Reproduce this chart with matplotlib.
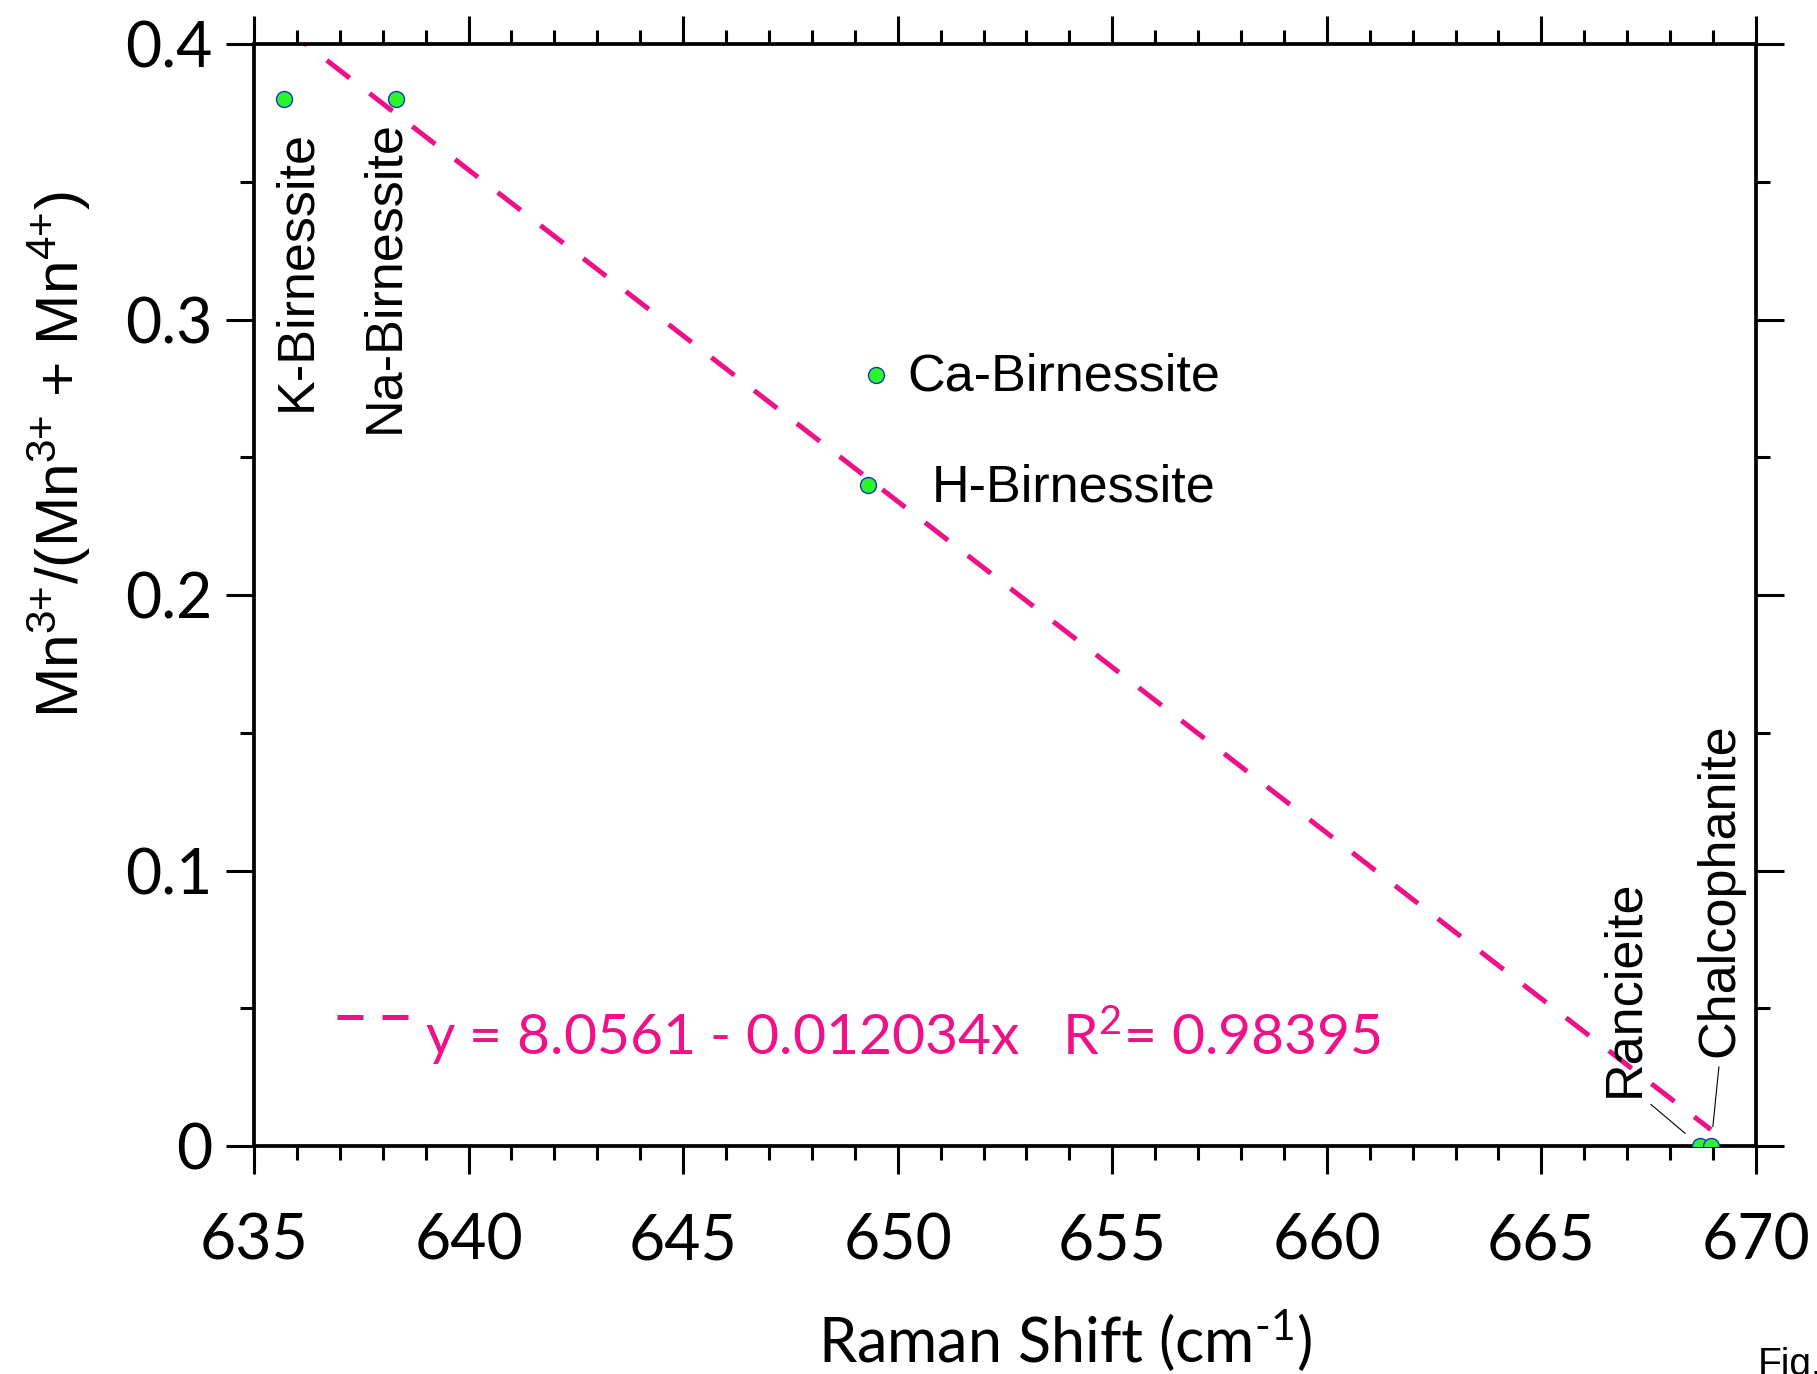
import numpy as np
import matplotlib
matplotlib.use('Agg')
from matplotlib import pyplot as plt
from matplotlib.ticker import MultipleLocator
from matplotlib.transforms import ScaledTranslation

# Mn3+ fraction against the main Raman band position
minerals = ['K-Birnessite', 'Na-Birnessite', 'Ca-Birnessite', 'H-Birnessite', 'Rancieite', 'Chalcophanite']
raman_shift = [635.7, 638.3, 649.5, 649.3, 668.7, 668.95]
mn3_fraction = [0.38, 0.38, 0.28, 0.24, 0.0, 0.0]

# linear fit reported on the plot
fit_intercept = 8.0561
fit_slope = -0.012034
fit_r2 = 0.98395

x_ticks = [635, 640, 645, 650, 655, 660, 665, 670]
y_ticks = [0, 0.1, 0.2, 0.3, 0.4]
y_tick_labels = ['0', '0.1', '0.2', '0.3', '0.4']

PINK = '#EE1188'
GREEN = '#2CF52C'

plt.rcParams['mathtext.default'] = 'regular'
plt.rcParams['font.family'] = ['Lato', 'DejaVu Sans']

# where each mineral name goes: (x, y, rotation, ha, va)
label_pos = {
    'K-Birnessite': (636.0, 0.267, 90, 'center', 'bottom'),
    'Na-Birnessite': (638.05, 0.259, 90, 'center', 'bottom'),
    'Ca-Birnessite': (650.22, 0.2744, 0, 'left', 'baseline'),
    'H-Birnessite': (650.8, 0.2338, 0, 'left', 'baseline'),
    'Rancieite': (666.95, 0.0178, 90, 'center', 'bottom'),
    'Chalcophanite': (669.16, 0.0323, 90, 'center', 'bottom'),
}
leader = {
    'Rancieite': dict(relpos=(0.85, 0.0), shrinkA=5, shrinkB=14),
    'Chalcophanite': dict(relpos=(0.5, 0.0), shrinkA=5, shrinkB=14),
}

fig = plt.figure(figsize=(18.17, 13.74), dpi=100)
ax = fig.add_axes([0.1398, 0.1659, 0.8266, 0.8020])

# fitted line over the data range
xf = np.array([min(raman_shift), max(raman_shift)])
yf = fit_intercept + fit_slope * xf
eq = f'y = {fit_intercept} - {abs(fit_slope)}x   R$^2$= {fit_r2}'
ax.plot(xf, yf, color=PINK, lw=3.6, dashes=(5.8, 5.0), label=eq, zorder=2)

ax.plot(raman_shift, mn3_fraction, 'o', ms=11.5, mfc=GREEN, mec='#1535C0',
        mew=1.0, zorder=3)

for name, xv, yv in zip(minerals, raman_shift, mn3_fraction):
    lx, ly, rot, ha, va = label_pos[name]
    kw = {}
    if name in leader:
        kw['arrowprops'] = dict(arrowstyle='-', color='black', lw=0.8, **leader[name])
    ax.annotate(name, xy=(xv, yv), xytext=(lx, ly), textcoords='data',
                rotation=rot, ha=ha, va=va, fontsize=37.5,
                family='Liberation Sans', annotation_clip=False, **kw)

ax.set_xlim(635, 670)
ax.set_ylim(0, 0.4)
ax.set_xticks(x_ticks)
ax.set_yticks(y_ticks)
ax.set_yticklabels(y_tick_labels)
ax.xaxis.set_minor_locator(MultipleLocator(1))
ax.yaxis.set_minor_locator(MultipleLocator(0.05))

for s in ax.spines.values():
    s.set_linewidth(2.7)
ax.tick_params(which='both', direction='out', top=True, right=True, width=2.2)
ax.tick_params(which='major', length=20)
ax.tick_params(which='minor', length=10)
ax.tick_params(axis='x', which='major', labelsize=45, pad=28)
ax.tick_params(axis='y', which='major', labelsize=45, pad=10)

leg = ax.legend(loc='lower left', bbox_to_anchor=(0.055, 0.071), frameon=False,
                fontsize=41, handlelength=1.26, handletextpad=0.29,
                borderpad=0, borderaxespad=0)
for t in leg.get_texts():
    t.set_color(PINK)
# legend sample: shorter dashes, sitting near the top of the text
for ln in leg.get_lines():
    ln.set_dashes((5.2, 3.8))
    ln.set_transform(ln.get_transform() + ScaledTranslation(0, 0.18, fig.dpi_scale_trans))

fig.text(1065 / 1817, 1 - 1363 / 1374, 'Raman Shift (cm$^{\u20101}$)', fontsize=44,
         ha='center', va='baseline')
fig.text(93 / 1817, 1 - 455 / 1374, 'Mn$^{3{+}}$/(Mn$^{3{+}}$ + Mn$^{4{+}}$)', fontsize=43.5,
         family='Liberation Sans', rotation=90, ha='right', va='center')
fig.text(1758 / 1817, -0.001, 'Fig.', fontsize=28, family='Liberation Sans',
         ha='left', va='baseline')

fig.savefig('out.png', dpi=100)
